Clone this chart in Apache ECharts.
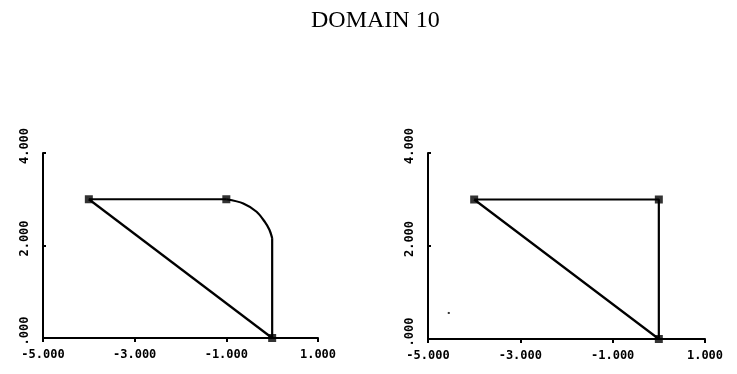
<!DOCTYPE html>
<html>
<head>
<meta charset="utf-8">
<script src="https://cdn.jsdelivr.net/npm/echarts@6/dist/echarts.min.js"></script>
<style>html,body{margin:0;padding:0;background:#fff}#c{width:737px;height:374px}</style>
</head>
<body>
<div id="c"></div>
<script>
var titleText = 'DOMAIN 10';
var xTickValues = [-5, -3, -1, 1];
var xTickLabels = ['-5.000', '-3.000', '-1.000', '1.000'];
var yTickValues = [0, 2, 4];
var yTickLabels = ['.000', '2.000', '4.000'];

// left panel: straight edges, rounded corner, vertices
var leftTop = [[-4, 3], [-1, 3]];
var leftArc = [[-1, 3], [-0.63, 2.91], [-0.34, 2.73], [-0.16, 2.51], [-0.06, 2.34], [0, 2.16]];
var leftSide = [[0, 2.16], [0, 0]];
var leftDiag = [[0, 0], [-4, 3]];
var leftVertices = [[-4, 3], [-1, 3], [0, 0]];

// right panel: triangle and vertices
var rightTri = [[-4, 3], [0, 3], [0, 0], [-4, 3]];
var rightVertices = [[-4, 3], [0, 3], [0, 0]];
var rightSpeck = [[-4.55, 0.56]];

function fmt(vals, labels) {
  return function (v) {
    for (var i = 0; i < vals.length; i++) if (Math.abs(vals[i] - v) < 1e-9) return labels[i];
    return '';
  };
}
var labelFont = {fontFamily: 'DejaVu Sans Mono', fontSize: 12, fontWeight: 'bold', color: '#000'};

function xAx(i) {
  return {
    type: 'value', gridIndex: i, min: -5, max: 1, interval: 2,
    axisLine: {show: true, onZero: false, lineStyle: {color: '#000', width: 2}},
    axisTick: {show: true, inside: false, length: 4, lineStyle: {color: '#000', width: 2}},
    axisLabel: Object.assign({formatter: fmt(xTickValues, xTickLabels), margin: 11, showMinLabel: true, showMaxLabel: true}, labelFont),
    splitLine: {show: false}
  };
}
function yAx(i) {
  return {
    type: 'value', gridIndex: i, min: 0, max: 4, interval: 2,
    axisLine: {show: true, onZero: false, lineStyle: {color: '#000', width: 2}},
    axisTick: {show: true, inside: true, length: 3, lineStyle: {color: '#000', width: 2}},
    axisLabel: Object.assign({formatter: fmt(yTickValues, yTickLabels), rotate: 90, margin: 12, padding: [0, 0, 0, 14], showMinLabel: true, showMaxLabel: true}, labelFont),
    splitLine: {show: false}
  };
}
function line(data, gi, smooth) {
  return {
    type: 'line', xAxisIndex: gi, yAxisIndex: gi, data: data, showSymbol: false, symbol: 'none',
    smooth: smooth || false, lineStyle: {color: '#000', width: 2.2}, silent: true, animation: false
  };
}
function pts(data, gi, size) {
  return {
    type: 'scatter', xAxisIndex: gi, yAxisIndex: gi, data: data, symbol: 'rect', symbolSize: size,
    itemStyle: {color: '#000'}, silent: true, animation: false
  };
}

var chart = echarts.init(document.getElementById('c'), null, {renderer: 'canvas'});
chart.setOption({
  backgroundColor: '#fff',
  animation: false,
  title: {
    text: titleText, left: 306, top: 4,
    textStyle: {fontFamily: 'Liberation Serif', fontSize: 24, fontWeight: 'normal', color: '#000'}
  },
  grid: [
    {left: 43, right: 419, top: 153, bottom: 36, containLabel: false},
    {left: 428, right: 32, top: 153, bottom: 35, containLabel: false}
  ],
  xAxis: [xAx(0), xAx(1)],
  yAxis: [yAx(0), yAx(1)],
  series: [
    line(leftTop, 0), line(leftArc, 0, 0.3), line(leftSide, 0), line(leftDiag, 0),
    pts(leftVertices, 0, 8),
    line(rightTri, 1),
    pts(rightVertices, 1, 8),
    pts(rightSpeck, 1, 2)
  ]
});
</script>
</body>
</html>
